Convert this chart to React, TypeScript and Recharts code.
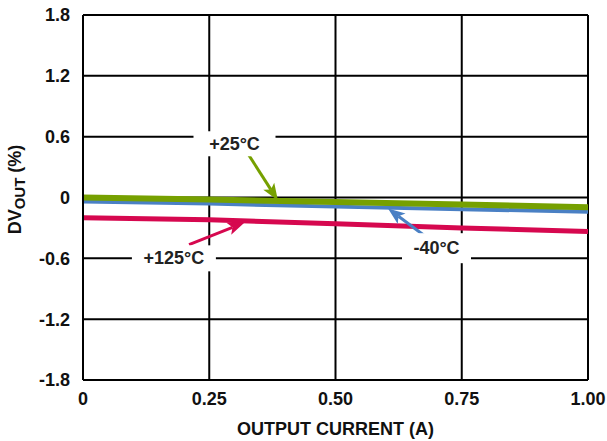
import React from "react";
import {
  CartesianGrid,
  Label,
  Line,
  LineChart,
  ReferenceDot,
  ReferenceLine,
  XAxis,
  YAxis,
} from "recharts";

// output current (A)
const current = [0, 0.25, 0.5, 0.75, 1.0];
// DVOUT (%) per temperature
const dv125 = [-0.2, -0.22, -0.26, -0.3, -0.335];
const dvMinus40 = [-0.04, -0.06, -0.09, -0.115, -0.14];
const dv25 = [0.0, -0.02, -0.045, -0.07, -0.095];

const xTicks = [0, 0.25, 0.5, 0.75, 1.0];
const yTicks = [-1.8, -1.2, -0.6, 0, 0.6, 1.2, 1.8];

const RED = "#d6084f";
const BLUE = "#4a80c4";
const GREEN = "#76a000";
const FONT = "'Liberation Sans', Arial, sans-serif";

const data = current.map((x, i) => ({
  x,
  t125: dv125[i],
  tm40: dvMinus40[i],
  t25: dv25[i],
}));

function arrowShape(color: string) {
  return (p: any) => {
    const { x1, y1, x2, y2 } = p;
    const dx = x2 - x1;
    const dy = y2 - y1;
    const len = Math.sqrt(dx * dx + dy * dy) || 1;
    const ux = dx / len;
    const uy = dy / len;
    const head = 17;
    const half = 6.5;
    const bx = x2 - ux * head;
    const by = y2 - uy * head;
    const pts = `${x2},${y2} ${bx - uy * half},${by + ux * half} ${bx + ux * 4},${by + uy * 4} ${bx + uy * half},${by - ux * half}`;
    return (
      <g>
        <line x1={x1} y1={y1} x2={bx + ux * 4} y2={by + uy * 4} stroke={color} strokeWidth={3} />
        <polygon points={pts} fill={color} />
      </g>
    );
  };
}

function tagShape(text: string, w: number, h: number) {
  return (p: any) => (
    <g>
      <rect x={p.cx - w / 2} y={p.cy - h / 2} width={w} height={h} fill="#fff" />
      <text
        x={p.cx}
        y={p.cy}
        textAnchor="middle"
        dominantBaseline="central"
        fontFamily={FONT}
        fontWeight="bold"
        fontSize={18}
        fill="#222"
      >
        {text}
      </text>
    </g>
  );
}

export default function App() {
  return (
    <div style={{ position: "absolute", left: 0, top: 0, background: "#fff" }}>
      <LineChart width={607} height={441} data={data} margin={{ top: 15, right: 19, bottom: 0, left: 0 }}>
        <CartesianGrid stroke="#000" strokeWidth={2} strokeOpacity={1} />
        <XAxis
          dataKey="x"
          type="number"
          domain={[0, 1]}
          ticks={xTicks}
          tickFormatter={(v: number) => (v === 0 ? "0" : v.toFixed(2))}
          axisLine={{ stroke: "#000", strokeWidth: 2 }}
          tickLine={false}
          tickMargin={6}
          height={61}
          tick={{ fill: "#111", fontSize: 18, fontWeight: "bold", fontFamily: FONT }}
        >
          <Label
            value="OUTPUT CURRENT (A)"
            position="insideBottom"
            offset={6}
            style={{ fill: "#111", fontSize: 18, fontWeight: "bold", fontFamily: FONT }}
          />
        </XAxis>
        <YAxis
          type="number"
          domain={[-1.8, 1.8]}
          ticks={yTicks}
          tickFormatter={(v: number) => (v === 0 ? "0" : v.toFixed(1))}
          axisLine={{ stroke: "#000", strokeWidth: 2 }}
          tickLine={false}
          tickMargin={7}
          width={83}
          tick={{ fill: "#111", fontSize: 18, fontWeight: "bold", fontFamily: FONT }}
        >
          <Label
            content={(props: any) => {
              const vb = props.viewBox || { x: 0, y: 15, width: 83, height: 365 };
              const cx = vb.x + 21;
              const cy = vb.y + vb.height / 2 - 8;
              return (
                <text
                  transform={`rotate(-90 ${cx} ${cy})`}
                  x={cx}
                  y={cy}
                  textAnchor="middle"
                  fontFamily={FONT}
                  fontWeight="bold"
                  fontSize={18}
                  fill="#111"
                >
                  <tspan>DV</tspan>
                  <tspan fontSize={15} dy={4}>OUT</tspan>
                  <tspan dy={-4}> (%)</tspan>
                </text>
              );
            }}
          />
        </YAxis>

        <ReferenceDot x={0.3} y={0.53} r={1} shape={tagShape("+25°C", 82, 25)} />
        <ReferenceDot x={0.18} y={-0.6} r={1} shape={tagShape("+125°C", 84, 26)} />
        <ReferenceDot x={0.7} y={-0.5} r={1} shape={tagShape("-40°C", 69, 30)} />

        <Line dataKey="t125" stroke={RED} strokeWidth={5} dot={false} isAnimationActive={false} />
        <Line dataKey="tm40" stroke={BLUE} strokeWidth={4} dot={false} isAnimationActive={false} />
        <Line dataKey="t25" stroke={GREEN} strokeWidth={6} dot={false} isAnimationActive={false} />

        <ReferenceLine
          segment={[{ x: 0.325, y: 0.444 }, { x: 0.386, y: -0.03 }]}
          shape={arrowShape(GREEN)}
        />
        <ReferenceLine
          segment={[{ x: 0.21, y: -0.464 }, { x: 0.32, y: -0.247 }]}
          shape={arrowShape(RED)}
        />
        <ReferenceLine
          segment={[{ x: 0.681, y: -0.395 }, { x: 0.604, y: -0.109 }]}
          shape={arrowShape(BLUE)}
        />
      </LineChart>
    </div>
  );
}
